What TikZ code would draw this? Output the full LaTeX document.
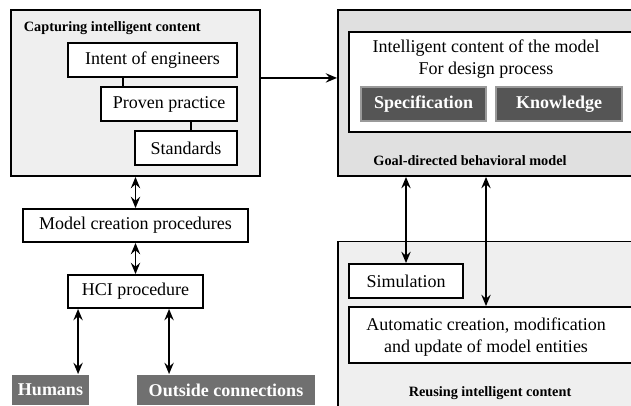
\documentclass[tikz,border=0pt]{standalone}
\usepackage{fontspec}
\setmainfont{Liberation Serif}
\usetikzlibrary{arrows.meta,calc}
\definecolor{lightbg}{HTML}{EFEFEF}
\definecolor{midbg}{HTML}{E0E0E0}
\definecolor{darkbox}{HTML}{555555}
\definecolor{darkedge}{HTML}{9A9A9A}
\definecolor{greybox}{HTML}{707070}
\begin{document}
\begin{tikzpicture}[x=0.75pt,y=-0.75pt,line width=1.4pt,
            every node/.style={rectangle,inner sep=0pt,font=\fontsize{13.5}{16.5}\selectfont},
            box/.style={draw,fill=white},
            frame/.style={draw},
            caption/.style={font=\fontsize{10.7}{13}\selectfont\bfseries},
            darkbtn/.style={draw=darkedge,fill=darkbox,text=white,font=\fontsize{13.5}{16.5}\selectfont\bfseries},
            greybtn/.style={fill=greybox,text=white,font=\fontsize{13.5}{16.5}\selectfont\bfseries},
            link/.style={<->,>={Stealth[length=8.5pt,width=7pt,inset=3pt]}}]
            \useasboundingbox (0,0) rectangle (631,405);
            \clip (0,0) rectangle (631,405);
            % left column
            \node[frame,fill=lightbg,minimum width=186.75pt,minimum height=124.5pt] (cap) at (135.5,93) {};
            \node[caption,anchor=west] (captitle) at (23,28) {Capturing intelligent content};
            \node[box,minimum width=126.75pt,minimum height=25.5pt] (intent) at (152.5,60) {Intent of engineers};
            \node[box,minimum width=102pt,minimum height=25.5pt] (proven) at (169,104) {Proven practice};
            \node[box,minimum width=76.5pt,minimum height=25.5pt] (std) at (186,148) {Standards};
            \node[box,minimum width=168.75pt,minimum height=24.75pt] (model) at (135.5,225.5) {Model creation procedures};
            \node[box,minimum width=101.25pt,minimum height=24.75pt] (hci) at (135.5,291.5) {HCI procedure};
            \node[greybtn,minimum width=57.75pt,minimum height=22.5pt] (hum) at (50.5,390) {Humans};
            \node[greybtn,minimum width=133.5pt,minimum height=22.5pt] (outs) at (226,390) {Outside connections};
            % right column
            \node[frame,fill=midbg,minimum width=271.5pt,minimum height=124.5pt] (goal) at (519,93) {};
            \node[box,minimum width=248.25pt,minimum height=75pt] (content) at (514.5,82) {};
            \node[align=center] (ictext) at (486,59) {Intelligent content of the model\\For design process};
            \node[darkbtn,minimum width=93.75pt,minimum height=25.5pt] (spec) at (423.5,104) {Specification};
            \node[darkbtn,minimum width=94.5pt,minimum height=25.5pt] (know) at (559,104) {Knowledge};
            \node[caption] (goaltitle) at (470,161) {Goal-directed behavioral model};
            \node[frame,fill=lightbg,minimum width=271.5pt,minimum height=156.75pt] (reuse) at (519,346) {};
            \node[box,minimum width=85.5pt,minimum height=25.5pt] (sim) at (406,281) {Simulation};
            \node[box,minimum width=248.25pt,minimum height=42pt] (auto) at (514.5,335) {};
            \node[align=center] (autotext) at (486,337) {Automatic creation, modification\\and update of model entities};
            \node[caption] (reusetitle) at (490,393) {Reusing intelligent content};
            % connectors
            \coordinate (p1) at ($(proven.north west)+(23,0)$);
            \coordinate (s1) at ($(std.north west)+(57,0)$);
            \draw (p1) -- (p1 |- intent.south);
            \draw (s1) -- (s1 |- proven.south);
            \draw[link,-{Stealth[length=8.5pt,width=7pt,inset=3pt]}] (cap.east |- intent.south) -- (goal.west |- intent.south);
            \draw[link] (cap.south) -- (cap.south |- model.north);
            \draw[link] (hci.north |- model.south) -- (hci.north);
            \coordinate (h1) at ($(hci.south west)+(11,0)$);
            \coordinate (h2) at ($(hci.south west)+(102,0)$);
            \draw[link] (h1) -- (h1 |- hum.north);
            \draw[link] (h2) -- (h2 |- outs.north);
            \draw[link] (goal.south -| sim.north) -- (sim.north);
            \draw[link] (goal.south -| autotext) -- (auto.north -| autotext);
\end{tikzpicture}
\end{document}
